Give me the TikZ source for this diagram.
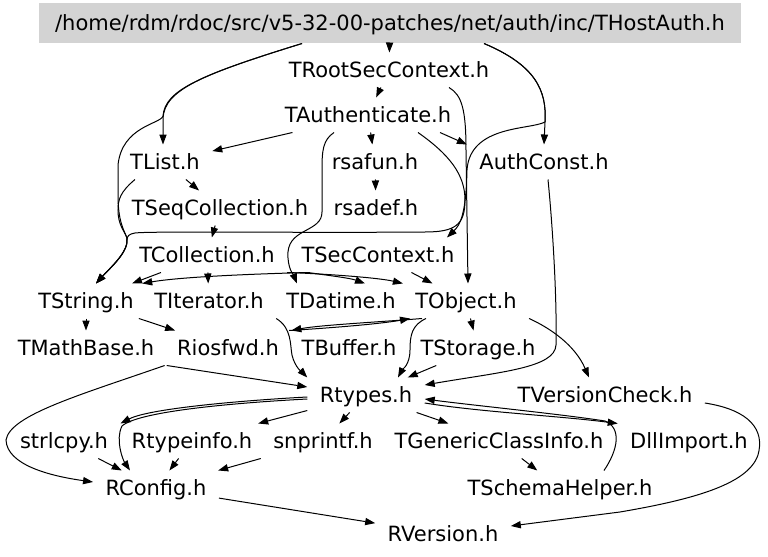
\documentclass[tikz,border=0pt]{standalone}
\usepackage{fontspec}
\setmainfont{DejaVu Sans}
\usetikzlibrary{arrows.meta}
\definecolor{rootgray}{RGB}{211,211,211}
\begin{document}
\begin{tikzpicture}[x=0.5pt,y=-0.5pt,line width=0.5pt,>={Triangle[length=5pt,width=3.6pt]}]
			\tikzstyle{file}=[inner xsep=6pt,inner ysep=0pt,minimum height=17pt,text height=9pt,text depth=1.5pt,font=\fontsize{10.5}{12}\selectfont]
			\useasboundingbox (0,0) rectangle (768,557);
			\node[file,fill=rootgray,minimum width=351pt,minimum height=20pt] (f_root) at (390,23) {/home/rdm/rdoc/src/v5-32-00-patches/net/auth/inc/THostAuth.h};
			\node[file] (f_rsc) at (389,70) {TRootSecContext.h};
			\node[file] (f_auth) at (368,115) {TAuthenticate.h};
			\node[file] (f_list) at (165,162) {TList.h};
			\node[file] (f_rsafun) at (375,162) {rsafun.h};
			\node[file] (f_authconst) at (544,162) {AuthConst.h};
			\node[file] (f_seqcoll) at (220,208) {TSeqCollection.h};
			\node[file] (f_rsadef) at (376,208) {rsadef.h};
			\node[file] (f_coll) at (207,255) {TCollection.h};
			\node[file] (f_secctx) at (378,255) {TSecContext.h};
			\node[file] (f_string) at (86,301) {TString.h};
			\node[file] (f_iter) at (209,301) {TIterator.h};
			\node[file] (f_datime) at (341,301) {TDatime.h};
			\node[file] (f_object) at (466,301) {TObject.h};
			\node[file] (f_mathbase) at (86,348) {TMathBase.h};
			\node[file] (f_iosfwd) at (228,348) {Riosfwd.h};
			\node[file] (f_buffer) at (349,348) {TBuffer.h};
			\node[file] (f_storage) at (478,348) {TStorage.h};
			\node[file] (f_rtypes) at (366,395) {Rtypes.h};
			\node[file] (f_vcheck) at (605,395) {TVersionCheck.h};
			\node[file] (f_strlcpy) at (64,441) {strlcpy.h};
			\node[file] (f_typeinfo) at (192,441) {Rtypeinfo.h};
			\node[file] (f_snprintf) at (323,441) {snprintf.h};
			\node[file] (f_gcinfo) at (499,441) {TGenericClassInfo.h};
			\node[file] (f_dllimport) at (689,441) {DllImport.h};
			\node[file] (f_rconfig) at (156,488) {RConfig.h};
			\node[file] (f_schema) at (560,488) {TSchemaHelper.h};
			\node[file] (f_rversion) at (443,534) {RVersion.h};
			% from the root file
			\draw[->] (f_root) -- (f_rsc);
			\draw[->] ([xshift=-44pt]f_root.south) .. controls (200,75) and (165,90) .. (163,118) -- ([xshift=-1pt]f_list.north);
			\draw[->] ([xshift=-44pt]f_root.south) .. controls (200,75) and (165,90) .. (163,116) .. controls (161,124) and (122,126) .. (118,165) -- (118,195) .. controls (118,222) and (124,230) .. (127,238) .. controls (129,252) and (110,268) .. ([xshift=5pt]f_string.north);
			\draw[->] ([xshift=47pt]f_root.south) .. controls (535,65) and (547,90) .. (545,122) -- (f_authconst.north);
			\draw[->] ([xshift=47pt]f_root.south) .. controls (535,65) and (547,90) .. (545,122) .. controls (530,130) and (470,125) .. (467,170) .. controls (466,215) and (460,225) .. ([xshift=-10pt]f_secctx.north east);
			% upper part
			\draw[->] (f_rsc) -- (f_auth);
			\draw[->] ([xshift=30pt]f_rsc.south) .. controls (462,95) and (466,110) .. (466,150) -- ([xshift=1pt]f_object.north);
			\draw[->] (f_auth) -- (f_list);
			\draw[->] (f_auth) -- (f_rsafun);
			\draw[->] ([xshift=36pt]f_auth.south) -- (f_authconst.north west);
			\draw[->] ([xshift=25pt]f_auth.south) .. controls (450,155) and (465,175) .. (465,200) .. controls (465,225) and (455,232) .. (425,232) .. controls (300,233) and (150,231) .. (135,233) .. controls (129,234) and (127,236) .. (127,240) .. controls (128,252) and (110,268) .. ([xshift=5pt]f_string.north);
			\draw[->] ([xshift=-17pt]f_auth.south) .. controls (323,140) and (322,150) .. (322,170) -- (322,212) .. controls (322,232) and (290,228) .. (288,252) .. controls (287,268) and (294,276) .. ([xshift=-22pt]f_datime.north);
			\draw[->] (f_rsafun) -- (f_rsadef);
			\draw[->] (f_list) -- (f_seqcoll);
			\draw[->] ([xshift=-15pt]f_list.south) .. controls (120,192) and (118,200) .. (118,210) .. controls (118,225) and (124,230) .. (127,238) .. controls (129,252) and (110,268) .. ([xshift=5pt]f_string.north);
			\draw[->] (f_seqcoll) -- (f_coll);
			\draw[->] (f_coll) -- (f_iter);
			\draw[->] (f_coll) -- (f_string);
			\draw[->] (f_coll.south east) .. controls (330,274) and (380,278) .. (f_object.north west);
			\draw[->] ([xshift=-35pt]f_secctx.south) .. controls (250,274) and (180,277) .. ([xshift=-2pt]f_string.north east);
			\draw[->] ([xshift=-35pt]f_secctx.south) .. controls (325,275) and (350,278) .. ([xshift=12pt]f_datime.north);
			\draw[->] (f_secctx) -- (f_object);
			% middle part
			\draw[->] (f_string) -- (f_mathbase);
			\draw[->] (f_string) -- (f_iosfwd);
			\draw[->] (f_iter.south east) .. controls (292,328) and (290,345) .. (292,355) .. controls (295,368) and (303,373) .. (f_rtypes.north west);
			\draw[->] ([xshift=-22pt]f_object.south) .. controls (380,322) and (320,325) .. (f_iosfwd.north east);
			\draw[->] (f_buffer.north west) .. controls (330,328) and (380,324) .. ([xshift=-28pt]f_object.south);
			\draw[->] ([xshift=-20pt]f_object.south) .. controls (412,325) and (410,335) .. (410,350) .. controls (410,365) and (402,370) .. ([xshift=16pt]f_rtypes.north);
			\draw[->] (f_object) -- (f_storage);
			\draw[->] (f_object.south east) .. controls (550,328) and (575,345) .. ([xshift=-8pt]f_vcheck.north);
			\draw[->] (f_storage) -- (f_rtypes);
			\draw[->] ([xshift=2pt]f_authconst.south) .. controls (553,230) and (557,300) .. (556,345) .. controls (555,368) and (500,372) .. ([yshift=5pt]f_rtypes.east);
			\draw[->] (f_mathbase.south east) -- ([yshift=4pt]f_rtypes.west);
			\draw[->] (f_iosfwd.south west) .. controls (80,395) and (10,415) .. (6,440) .. controls (7,465) and (50,476) .. ([yshift=3pt]f_rconfig.west);
			% lower part
			\draw[->] ([yshift=-1pt]f_rtypes.west) .. controls (250,400) and (150,408) .. (f_strlcpy.north east);
			\draw[->] ([yshift=-2pt]f_rtypes.west) .. controls (250,402) and (140,410) .. (122,426) .. controls (115,440) and (123,460) .. ([xshift=-13pt]f_rconfig.north);
			\draw[->] (f_rtypes) -- (f_typeinfo);
			\draw[->] (f_rtypes) -- (f_snprintf);
			\draw[->] (f_rtypes) -- (f_gcinfo);
			\draw[->] ([yshift=-4pt]f_rtypes.east) .. controls (480,412) and (560,416) .. (f_dllimport.north west);
			\draw[->] ([xshift=22pt]f_schema.north) .. controls (618,450) and (622,428) .. (605,421) .. controls (560,414) and (470,405) .. ([yshift=-2pt]f_rtypes.east);
			\draw[->] (f_gcinfo) -- (f_schema);
			\draw[->] ([yshift=-4pt]f_vcheck.east) .. controls (750,410) and (765,430) .. (758,455) .. controls (748,485) and (690,500) .. (620,512) -- ([yshift=4pt]f_rversion.east);
			\draw[->] (f_strlcpy) -- (f_rconfig);
			\draw[->] (f_typeinfo) -- (f_rconfig);
			\draw[->] (f_snprintf) -- (f_rconfig);
			\draw[->] (f_rconfig) -- (f_rversion);
		\end{tikzpicture}
\end{document}
